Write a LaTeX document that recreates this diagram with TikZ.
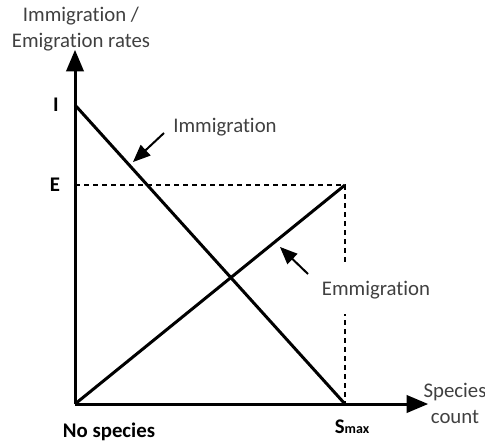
\documentclass[tikz,border=0pt]{standalone}
\usepackage{fontspec}
\setmainfont{Carlito}[Ligatures=NoCommon]
\usetikzlibrary{arrows,calc}

\begin{document}
\begin{tikzpicture}[x=0.5pt, y=-0.5pt, >=triangle 45, font=\fontsize{10.4}{13}\selectfont]
  \useasboundingbox (0,0) rectangle (485,444);

  \coordinate (o) at (75,404);
  \coordinate (ytop) at (75,50);
  \coordinate (xend) at (428,404);
  \coordinate (i) at (75,105);
  \coordinate (e) at (75,185);
  \coordinate (smax) at (345,404);
  \coordinate (emax) at (345,185);

  \draw[dashed, dash pattern=on 2.5pt off 2pt, line width=0.8pt] (e)--(emax)--(smax);
  \draw[line width=1.5pt] (i)--(smax);
  \draw[line width=1.5pt] (o)--(emax);
  \draw[->, line width=1.5pt] (o)--(ytop);
  \draw[->, line width=1.5pt] (o)--(xend);

  \node[align=center, text=black!75] at (81,29) (ylab) {Immigration /\\Emigration rates};
  \node[align=center, text=black!75] at (455,403) (xlab) {Species\\count};
  \node[font=\fontsize{10.4}{13}\bfseries] at (56,105) (ilab) {I};
  \node[font=\fontsize{10.4}{13}\bfseries] at (55,185) (elab) {E};
  \node[font=\fontsize{10.4}{13}\bfseries] at (109,432) (nolab) {No species};
  \node[font=\fontsize{10.4}{13}\bfseries] at (352,427) (slab) {S{\fontsize{7}{8}\selectfont max}};

  \node[text=black!75] at (225,127) (imlab) {Immigration};
  \node[fill=white, text=black!75, inner ysep=7.5pt] at (376,290) (emlab) {Emmigration};

  \coordinate (imtail) at (164,133);
  \coordinate (imtip) at (133,162);
  \coordinate (emtail) at (308,274);
  \coordinate (emtip) at (280,247);
  \draw[->, line width=1pt] (imtail)--(imtip);
  \draw[->, line width=1pt] (emtail)--(emtip);

\end{tikzpicture}
\end{document}
